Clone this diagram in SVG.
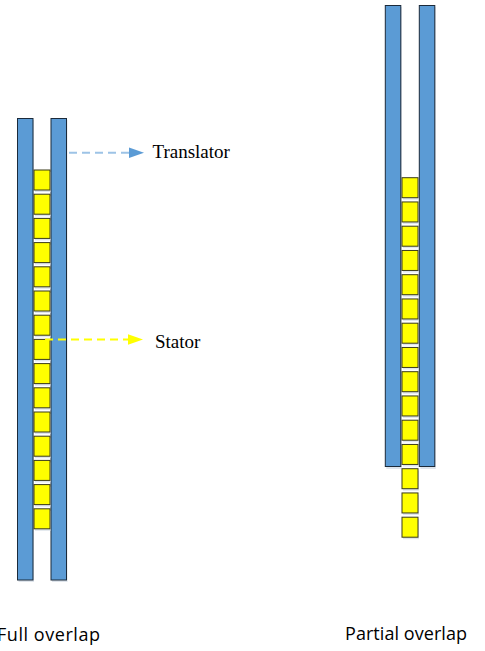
<svg xmlns="http://www.w3.org/2000/svg" width="485" height="651" viewBox="0 0 485 651">
<style>
.bar{fill:#5b9bd5;stroke:#1b2a3a;stroke-width:1}
.sq{fill:#ffff00;stroke:#3a3a1a;stroke-width:1}
.sh{fill:#c9d3e0;opacity:0.6}
.ser{font-family:"Liberation Serif","Times New Roman",serif;font-size:19px;fill:#000}
.san{font-family:"Open Sans","Liberation Sans",sans-serif;font-size:18px;fill:#000}
</style>
<defs>
<g id="sqr"><rect class="sh" x="1" y="2" width="16" height="20"/><rect class="sq" x="0" y="0" width="16" height="20"/></g>
</defs>
<g id="full-overlap">
<rect class="sh" x="18.5" y="120" width="15.5" height="462"/>
<rect class="sh" x="52" y="120" width="15.5" height="462"/>
<rect class="bar" x="17.5" y="118.5" width="15.5" height="461.5"/>
<rect class="bar" x="51" y="118.5" width="15.5" height="461.5"/>
<use href="#sqr" x="34" y="170"/>
<use href="#sqr" x="34" y="194.2"/>
<use href="#sqr" x="34" y="218.4"/>
<use href="#sqr" x="34" y="242.6"/>
<use href="#sqr" x="34" y="266.8"/>
<use href="#sqr" x="34" y="291"/>
<use href="#sqr" x="34" y="315.2"/>
<use href="#sqr" x="34" y="339.4"/>
<use href="#sqr" x="34" y="363.6"/>
<use href="#sqr" x="34" y="387.8"/>
<use href="#sqr" x="34" y="412"/>
<use href="#sqr" x="34" y="436.2"/>
<use href="#sqr" x="34" y="460.4"/>
<use href="#sqr" x="34" y="484.6"/>
<use href="#sqr" x="34" y="508.8"/>
<text class="san" x="-3" y="641" textLength="103">Full overlap</text>
</g>
<g id="partial-overlap">
<rect class="sh" x="386.3" y="7" width="15.5" height="462"/>
<rect class="sh" x="420.3" y="7" width="15.5" height="462"/>
<rect class="bar" x="385.3" y="5.5" width="15.5" height="461"/>
<rect class="bar" x="419.3" y="5.5" width="15.5" height="461"/>
<use href="#sqr" x="402" y="177.7"/>
<use href="#sqr" x="402" y="201.95"/>
<use href="#sqr" x="402" y="226.2"/>
<use href="#sqr" x="402" y="250.45"/>
<use href="#sqr" x="402" y="274.7"/>
<use href="#sqr" x="402" y="298.95"/>
<use href="#sqr" x="402" y="323.2"/>
<use href="#sqr" x="402" y="347.45"/>
<use href="#sqr" x="402" y="371.7"/>
<use href="#sqr" x="402" y="395.95"/>
<use href="#sqr" x="402" y="420.2"/>
<use href="#sqr" x="402" y="444.45"/>
<use href="#sqr" x="402" y="468.7"/>
<use href="#sqr" x="402" y="492.95"/>
<use href="#sqr" x="402" y="517.2"/>
<text class="san" x="345" y="640" textLength="122">Partial overlap</text>
</g>
<g id="connectors">
<line x1="69" y1="152.7" x2="131" y2="152.7" stroke="#9dc3e6" stroke-width="2" stroke-dasharray="8,5"/>
<polygon points="129,147.5 144,152.7 129,157.9" fill="#5b9bd5"/>
<line x1="45" y1="339.5" x2="130" y2="339.5" stroke="#ffff00" stroke-width="2" stroke-dasharray="8,5"/>
<polygon points="128,334.3 143,339.5 128,344.7" fill="#ffff00"/>
</g>
<g id="label-translator"><text class="ser" x="152.5" y="158.3">Translator</text></g>
<g id="label-stator"><text class="ser" x="155" y="347.7">Stator</text></g>
</svg>
